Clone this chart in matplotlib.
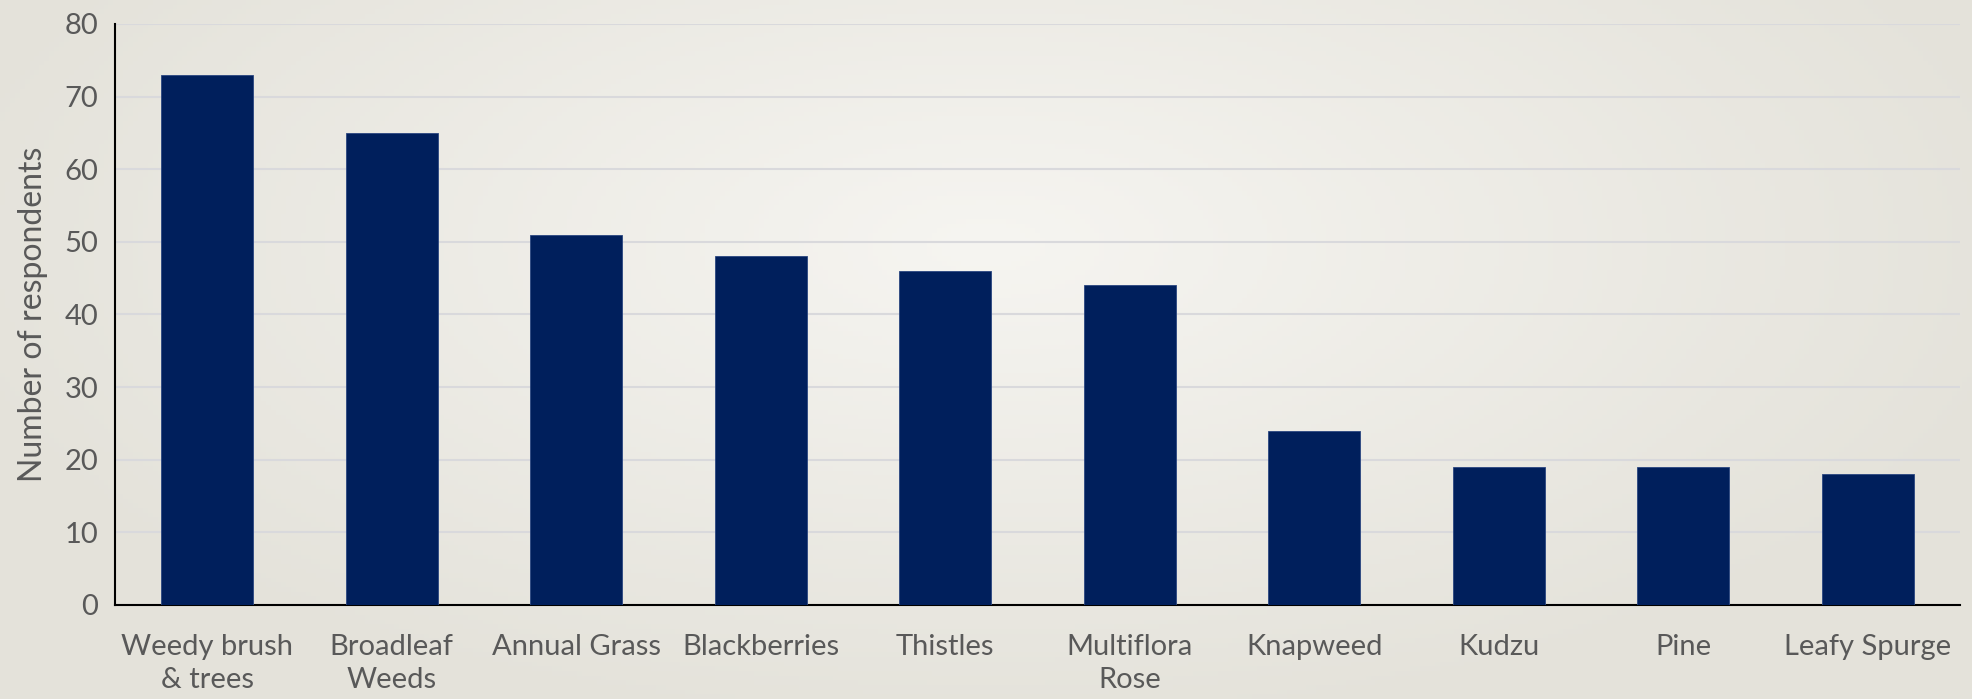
import numpy as np
import matplotlib.pyplot as plt

# Data
categories = ["Weedy brush\n& trees", "Broadleaf\nWeeds", "Annual Grass", "Blackberries",
              "Thistles", "Multiflora\nRose", "Knapweed", "Kudzu", "Pine", "Leafy Spurge"]
values = [73, 65, 51, 48, 46, 44, 24, 19, 19, 18]
yticks = [0, 10, 20, 30, 40, 50, 60, 70, 80]

plt.rcParams['font.family'] = ['Lato', 'DejaVu Sans']

fig = plt.figure(figsize=(19.72, 6.99), dpi=100)

# background gradient (light centre, slightly darker edges)
bg = fig.add_axes([0, 0, 1, 1], zorder=-10)
gx = np.linspace(-1, 1, 400)
gy = np.linspace(-1, 1, 150)
GX, GY = np.meshgrid(gx, gy)
r = np.clip(np.sqrt(GX**2 + (GY + 0.3)**2 * 0.6) / 1.1, 0, 1)
c_in = np.array([246, 245, 241]) / 255
c_out = np.array([228, 226, 218]) / 255
img = c_in[None, None, :] * (1 - r[..., None]) + c_out[None, None, :] * r[..., None]
bg.imshow(img, aspect='auto', extent=[0, 1, 0, 1], origin='upper')
bg.axis('off')

ax = fig.add_axes([0.0583, 0.1345, 0.9356, 0.8312])
ax.patch.set_alpha(0)
x = np.arange(len(categories))
ax.bar(x, values, width=0.5, color='#001f5c', edgecolor='#2a4680', linewidth=0.6, zorder=3)

ax.set_xlim(-0.5, len(categories) - 0.5)
ax.set_ylim(0, 80)
ax.set_yticks(yticks)
ax.set_xticks(x)
ax.set_xticklabels(categories, fontsize=21, color='#595959', linespacing=1.32)
ax.tick_params(axis='y', labelsize=21, labelcolor='#595959', length=0, pad=12)
ax.tick_params(axis='x', length=0, pad=21)
ax.set_ylabel("Number of respondents", fontsize=23, color='#595959', labelpad=12)

ax.grid(axis='y', color='#d9d9dc', linewidth=1.5, zorder=0)
ax.set_axisbelow(True)
for s in ['top', 'right']:
    ax.spines[s].set_visible(False)
ax.spines['left'].set_color('black')
ax.spines['bottom'].set_color('black')
ax.spines['left'].set_linewidth(1.5)
ax.spines['bottom'].set_linewidth(1.5)

fig.savefig("out.png", dpi=100)
